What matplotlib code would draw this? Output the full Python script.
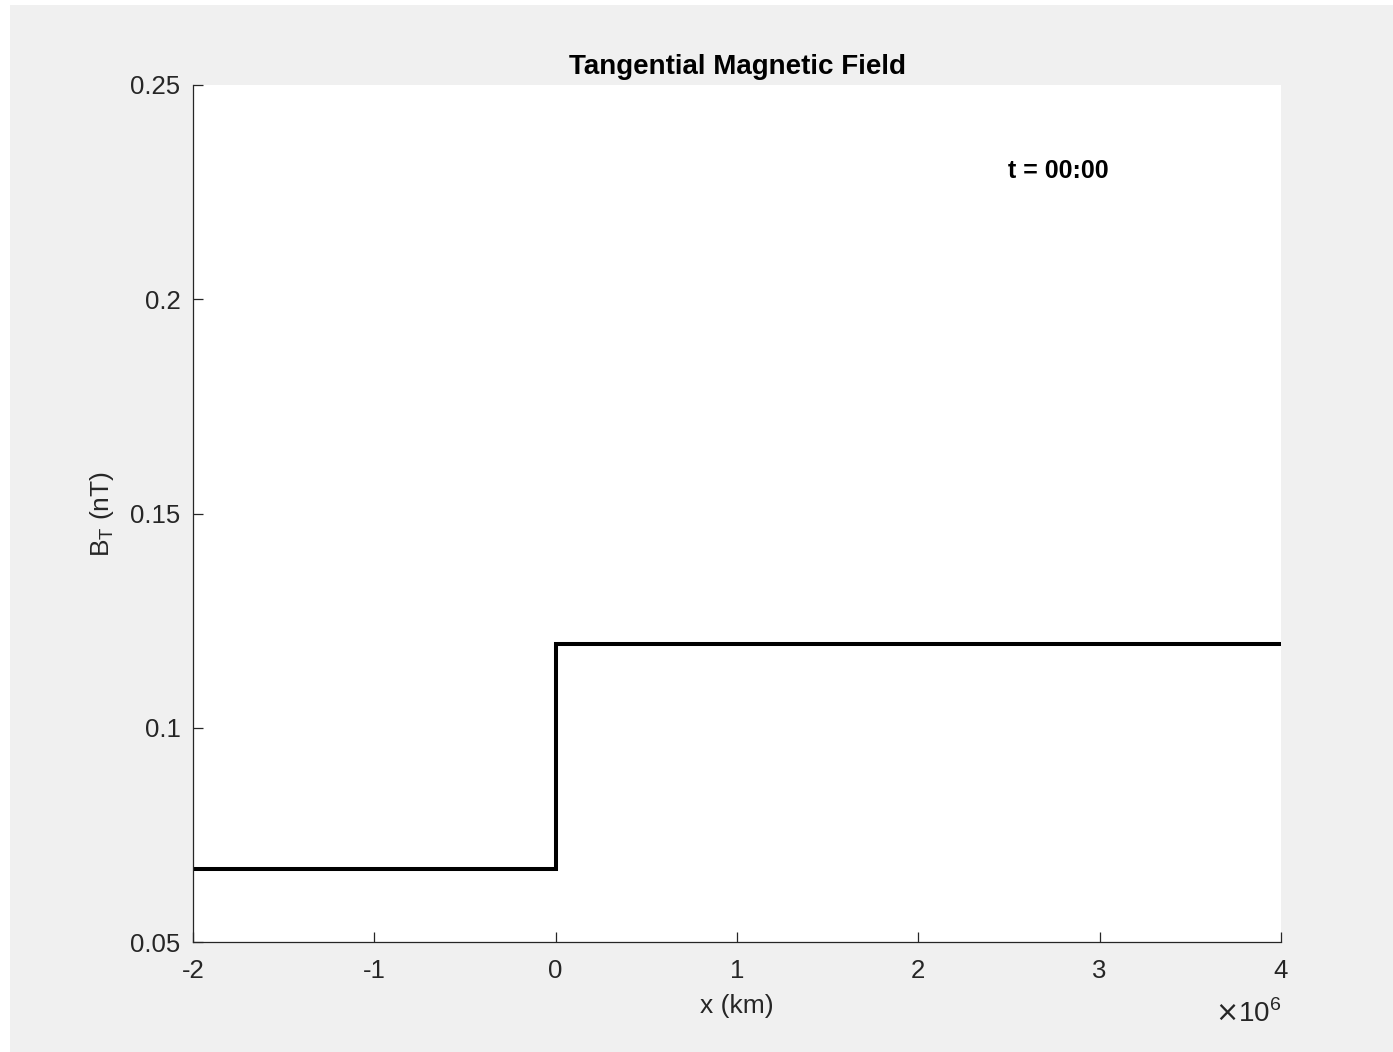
import matplotlib
matplotlib.use("Agg")
import matplotlib.pyplot as plt
from matplotlib.patches import Rectangle
from matplotlib.ticker import FuncFormatter

plt.rcParams['font.family'] = ['Liberation Sans', 'DejaVu Sans']

# Step profile of the tangential field across the discontinuity
x_km = [-2e6, 0.0, 0.0, 4e6]
b_t = [0.067, 0.067, 0.1195, 0.1195]

x_ticks = [-2e6, -1e6, 0, 1e6, 2e6, 3e6, 4e6]
y_ticks = [0.05, 0.1, 0.15, 0.2, 0.25]
time_label = "t = 00:00"

W, H = 1393, 1052
fig = plt.figure(figsize=(W / 100, H / 100), dpi=100, facecolor='white')
fig.patches.append(Rectangle((10 / W, 0), 1 - 10 / W, 1 - 5 / H,
                             transform=fig.transFigure, facecolor='#f0f0f0',
                             edgecolor='none', zorder=-10))

ax = fig.add_axes([193 / W, 1 - 942 / H, (1281 - 193) / W, (942 - 85) / H])
ax.set_facecolor('white')
ax.plot(x_km, b_t, color='black', lw=2.9, solid_joinstyle='miter')

ax.set_xlim(-2e6, 4e6)
ax.set_ylim(0.05, 0.25)
ax.set_xticks(x_ticks)
ax.set_yticks(y_ticks)
ax.xaxis.set_major_formatter(FuncFormatter(lambda v, p: f"{v / 1e6:g}"))
ax.yaxis.set_major_formatter(FuncFormatter(lambda v, p: f"{v:g}"))

axis_col = '#262626'
for side in ('top', 'right'):
    ax.spines[side].set_visible(False)
for side in ('left', 'bottom'):
    ax.spines[side].set_color(axis_col)
    ax.spines[side].set_linewidth(0.9)
ax.tick_params(direction='in', length=7, width=0.9, colors=axis_col,
               labelsize=18.5, pad=12)
ax.tick_params(axis='y', pad=9)

ax.set_title("Tangential Magnetic Field", fontsize=20, fontweight='bold',
             color='black', pad=8)
ax.set_xlabel("x (km)", fontsize=19, color=axis_col, labelpad=8)
ax.set_ylabel(r"B$_\mathregular{T}$ (nT)", fontsize=19, color=axis_col, labelpad=10)

ax.text(1.0, -0.067, r"$\times$10$^\mathregular{6}$", transform=ax.transAxes,
        ha='right', va='top', fontsize=20, color=axis_col)

ax.text(2.77e6, 0.23, time_label, ha='center', va='center', fontsize=18,
        fontweight='bold', color='black')

fig.savefig("out.png", dpi=100, facecolor=fig.get_facecolor())
